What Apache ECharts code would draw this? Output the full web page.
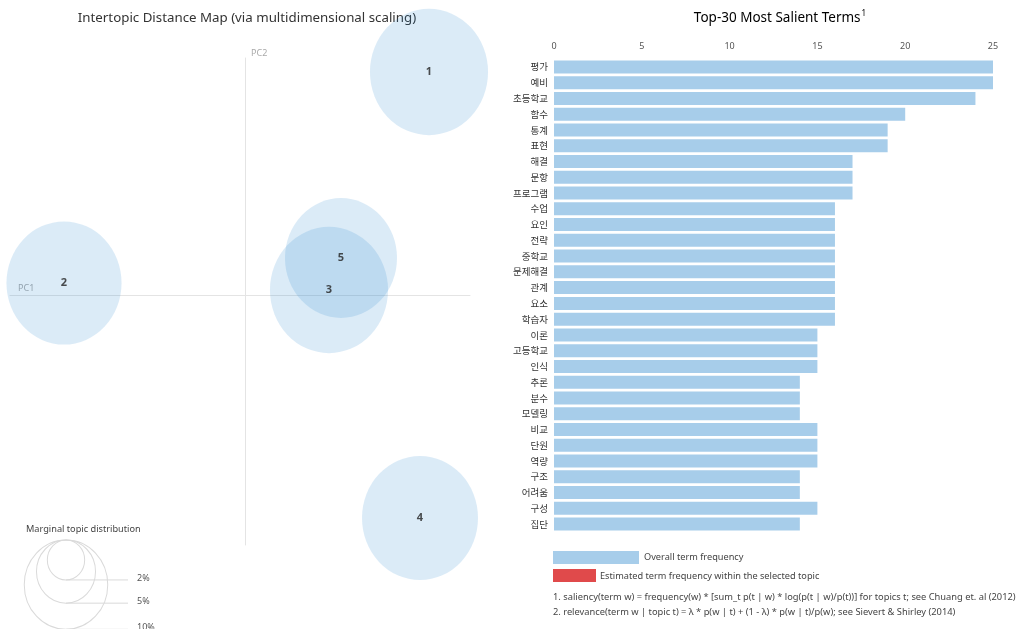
<!DOCTYPE html>
<html><head><meta charset="utf-8">
<script src="https://cdn.jsdelivr.net/npm/echarts@6/dist/echarts.min.js"></script>
<style>html,body{margin:0;padding:0;background:#fff}#c{width:1023px;height:629px}</style>
</head><body><div id="c"></div><script>
// ---- data ----
const topicIds = [1, 2, 3, 4, 5];
const topicPC1 = [0.184, -0.181, 0.084, 0.175, 0.096];
const topicPC2 = [0.223, 0.012, 0.005, -0.223, 0.037];
const topicPct = [20.0, 19.0, 20.0, 19.3, 18.0];
const terms = ['평가','예비','초등학교','함수','통계','표현','해결','문항','프로그램','수업','요인','전략','중학교','문제해결','관계','요소','학습자','이론','고등학교','인식','추론','분수','모델링','비교','단원','역량','구조','어려움','구성','집단'];
const termFreq = [25,25,24,20,19,19,17,17,17,16,16,16,16,16,16,16,16,15,15,15,14,14,14,15,15,15,14,14,15,14];
const legendPct = [2, 5, 10];
const legendLabels = ['2%', '5%', '10%'];
const footnotes = [
  '1. saliency(term w) = frequency(w) * [sum_t p(t | w) * log(p(t | w)/p(t))] for topics t; see Chuang et. al (2012)',
  '2. relevance(term w | topic t) = \u03bb * p(w | t) + (1 - \u03bb) * p(w | t)/p(w); see Sievert & Shirley (2014)'
];

// ---- styles / scales ----
const K = 13.2;       // px per sqrt(percent)
const STRETCH = 1.07; // vertical stretch of the original picture
const FONT = '"Noto Sans", "Open Sans", sans-serif';
const KFONT = '"Noto Sans CJK KR", sans-serif';
const rad = p => K * Math.sqrt(p);

const chart = echarts.init(document.getElementById('c'), null, {renderer: 'canvas'});

const legendCx = 66, legendTop = 540;
const graphics = [
  {type:'text', x: 247, y: 18, style:{text:'Intertopic Distance Map (via multidimensional scaling)', font:'13.3px ' + FONT, fill:'#333', textAlign:'center', textVerticalAlign:'middle'}},
  {type:'text', x: 780, y: 18, style:{text:'{a|Top-30 Most Salient Terms}{s|1}', textAlign:'center', textVerticalAlign:'middle', rich:{a:{fontSize:13.5, fontFamily:FONT, color:'#333'}, s:{fontSize:8, fontFamily:FONT, color:'#333', verticalAlign:'top', padding:[0,0,8,1]}}}},
  {type:'text', x: 18, y: 288, style:{text:'PC1', font:'9px ' + FONT, fill:'#aaa', textVerticalAlign:'middle'}},
  {type:'text', x: 251, y: 53, style:{text:'PC2', font:'9px ' + FONT, fill:'#aaa', textVerticalAlign:'middle'}},
  {type:'text', x: 26, y: 529, style:{text:'Marginal topic distribution', font:'9.2px ' + FONT, fill:'#444', textVerticalAlign:'middle'}}
];
legendPct.forEach((p, i) => {
  const r = rad(p);
  const bottom = legendTop + 2 * r * STRETCH;
  graphics.push({type:'circle', x: legendCx, y: legendTop + r * STRETCH, scaleY: STRETCH, shape:{cx:0, cy:0, r:r}, style:{fill:'none', stroke:'#dadada', lineWidth:1}});
  graphics.push({type:'line', shape:{x1: legendCx, y1: bottom, x2: 128, y2: bottom}, style:{stroke:'#dadada', lineWidth:1}});
  graphics.push({type:'text', x: 137, y: bottom - 2, style:{text: legendLabels[i], font:'9px ' + FONT, fill:'#555', textVerticalAlign:'middle'}});
});
graphics.push(
  {type:'rect', shape:{x:553, y:551, width:86, height:13}, style:{fill:'#a7cdea'}},
  {type:'text', x: 644, y: 557, style:{text:'Overall term frequency', font:'9.2px ' + FONT, fill:'#444', textVerticalAlign:'middle'}},
  {type:'rect', shape:{x:553, y:569, width:43, height:13}, style:{fill:'#e04a4b'}},
  {type:'text', x: 600, y: 576, style:{text:'Estimated term frequency within the selected topic', font:'9.2px ' + FONT, fill:'#444', textVerticalAlign:'middle'}},
  {type:'text', x: 553, y: 597, style:{text: footnotes[0], font:'9.3px ' + FONT, fill:'#444', textVerticalAlign:'middle'}},
  {type:'text', x: 553, y: 612, style:{text: footnotes[1], font:'9.3px ' + FONT, fill:'#444', textVerticalAlign:'middle'}}
);

const option = {
  animation: false,
  backgroundColor: '#fff',
  grid: [
    {left: 10, top: 58, width: 460, height: 487},
    {left: 554, right: 30, top: 59, bottom: 97}
  ],
  xAxis: [
    {gridIndex: 0, type: 'value', min: -0.235, max: 0.225, axisLine:{onZero:true, lineStyle:{color:'#e4e4e4'}}, axisTick:{show:false}, axisLabel:{show:false}, splitLine:{show:false}},
    {gridIndex: 1, type: 'value', position: 'top', min: 0, max: 25, interval: 5, axisLine:{show:false}, axisTick:{show:false}, splitLine:{show:false}, axisLabel:{fontSize: 9, color:'#555', fontFamily: FONT, margin: 8}}
  ],
  yAxis: [
    {gridIndex: 0, type: 'value', min: -0.25, max: 0.237, axisLine:{onZero:true, lineStyle:{color:'#e4e4e4'}}, axisTick:{show:false}, axisLabel:{show:false}, splitLine:{show:false}},
    {gridIndex: 1, type: 'category', inverse: true, data: terms, axisLine:{show:false}, axisTick:{show:false}, axisLabel:{fontSize: 9.5, color:'#333', fontFamily: KFONT, margin: 6}}
  ],
  series: [
    {
      type: 'scatter', xAxisIndex: 0, yAxisIndex: 0, clip: false,
      symbol: 'circle',
      data: topicIds.map((id, i) => ({value: [topicPC1[i], topicPC2[i]], name: String(id)})),
      symbolSize: (v, p) => { const r = rad(topicPct[p.dataIndex]); return [2 * r, 2 * r * STRETCH]; },
      itemStyle: {color: 'rgba(40,135,210,0.21)'},
      label: {show: true, position: 'inside', formatter: p => p.name, fontSize: 11, fontWeight: 'bold', color: '#222', fontFamily: FONT}
    },
    {
      type: 'bar', xAxisIndex: 1, yAxisIndex: 1, data: termFreq, barWidth: 13,
      itemStyle: {color: '#a7cdea'}
    }
  ],
  graphic: graphics
};
chart.setOption(option);
</script></body></html>
